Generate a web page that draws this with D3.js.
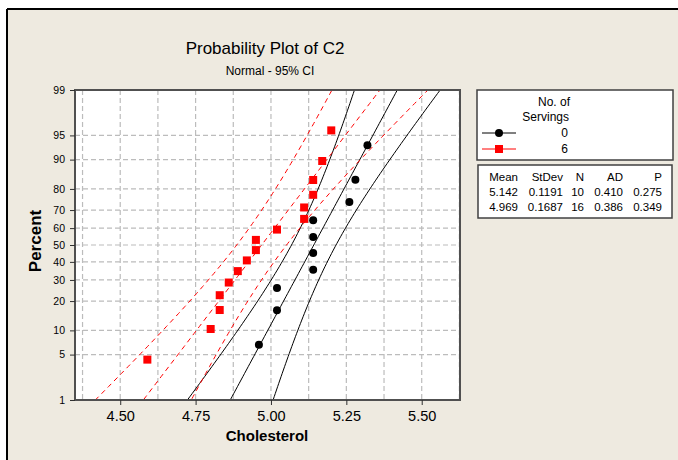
<!DOCTYPE html>
<html>
<head>
<meta charset="utf-8">
<script src="https://cdn.jsdelivr.net/npm/d3@7"></script>
<style>
  body { margin: 0; background: #fff; }
  text { font-family: "Liberation Sans", Arial, sans-serif; fill: #000; }
</style>
</head>
<body>
<svg id="chart"></svg>
<script>
// values
var xTicks = [4.50, 4.75, 5.00, 5.25, 5.50];
var pctTicks = [1, 5, 10, 20, 30, 40, 50, 60, 70, 80, 90, 95, 99];
var pctGrid = [5, 10, 20, 30, 40, 50, 60, 70, 80, 90, 95];

var groups = ["0", "6"];
var chol0 = [4.96, 5.02, 5.02, 5.14, 5.14, 5.14, 5.14, 5.26, 5.28, 5.32];
var pct0 = [6.73, 16.35, 25.96, 35.58, 45.19, 54.81, 64.42, 74.04, 83.65, 93.27];
var chol6 = [4.59, 4.80, 4.83, 4.83, 4.86, 4.89, 4.92, 4.95, 4.95, 5.02, 5.11, 5.11, 5.14, 5.14, 5.17, 5.20];
var pct6 = [4.27, 10.37, 16.46, 22.56, 28.66, 34.76, 40.85, 46.95, 53.05, 59.15, 65.24, 71.34, 77.44, 83.54, 89.63, 95.73];

var statHead = ["Mean", "StDev", "N", "AD", "P"];
var means = [5.142, 4.969];
var sds = [0.1191, 0.1687];
var ns = [10, 16];
var ads = ["0.410", "0.386"];
var ps = ["0.275", "0.349"];

var width = 678, height = 460;
var plotL = 75, plotR = 460, plotT = 90, plotB = 400;

// inverse normal cdf (Acklam)
var probit = function(p) {
  var a = [-3.969683028665376e+01, 2.209460984245205e+02, -2.759285104469687e+02, 1.383577518672690e+02, -3.066479806614716e+01, 2.506628277459239e+00];
  var b = [-5.447609879822406e+01, 1.615858368580409e+02, -1.556989798598866e+02, 6.680131188771972e+01, -1.328068155288572e+01];
  var c = [-7.784894002430293e-03, -3.223964580411365e-01, -2.400758277161838e+00, -2.549732539343734e+00, 4.374664141464968e+00, 2.938163982698783e+00];
  var d = [7.784695709041462e-03, 3.224671290700398e-01, 2.445134137142996e+00, 3.754408661907416e+00];
  var q, r;
  if (p < 0.02425) {
    q = Math.sqrt(-2 * Math.log(p));
    return (((((c[0]*q+c[1])*q+c[2])*q+c[3])*q+c[4])*q+c[5]) / ((((d[0]*q+d[1])*q+d[2])*q+d[3])*q+1);
  }
  if (p > 1 - 0.02425) {
    q = Math.sqrt(-2 * Math.log(1 - p));
    return -(((((c[0]*q+c[1])*q+c[2])*q+c[3])*q+c[4])*q+c[5]) / ((((d[0]*q+d[1])*q+d[2])*q+d[3])*q+1);
  }
  q = p - 0.5; r = q * q;
  return (((((a[0]*r+a[1])*r+a[2])*r+a[3])*r+a[4])*r+a[5])*q / (((((b[0]*r+b[1])*r+b[2])*r+b[3])*r+b[4])*r+1);
};
var zOf = function(pct) { return probit(pct / 100); };

var svg = d3.select("#chart").attr("width", width).attr("height", height);

// window background and frame
svg.append("rect").attr("x", 7).attr("y", 9).attr("width", width - 7).attr("height", height - 9).attr("fill", "#eeeae0");
svg.append("line").attr("x1", 7).attr("x2", width).attr("y1", 9).attr("y2", 9).attr("stroke", "#000").attr("stroke-width", 2);
svg.append("line").attr("x1", 7).attr("x2", 7).attr("y1", 9).attr("y2", height).attr("stroke", "#000").attr("stroke-width", 2);

var x = d3.scaleLinear().domain([4.35, 5.627]).range([plotL, plotR]);
var y = d3.scaleLinear().domain([zOf(1), zOf(99)]).range([plotB, plotT]);

svg.append("rect").attr("x", plotL).attr("y", plotT).attr("width", plotR - plotL).attr("height", plotB - plotT).attr("fill", "#fff");

svg.append("clipPath").attr("id", "clip")
   .append("rect").attr("x", plotL).attr("y", plotT).attr("width", plotR - plotL).attr("height", plotB - plotT);

// grid
var xGrid = d3.range(4.375, 5.627, 0.125);
svg.append("g").selectAll("line").data(xGrid).enter().append("line")
   .attr("x1", function(d) { return x(d); }).attr("x2", function(d) { return x(d); })
   .attr("y1", plotT).attr("y2", plotB)
   .attr("stroke", "#bcbcbc").attr("stroke-width", 1.2).attr("stroke-dasharray", "5,3");
svg.append("g").selectAll("line").data(pctGrid).enter().append("line")
   .attr("x1", plotL).attr("x2", plotR)
   .attr("y1", function(d) { return y(zOf(d)); }).attr("y2", function(d) { return y(zOf(d)); })
   .attr("stroke", "#bcbcbc").attr("stroke-width", 1.2).attr("stroke-dasharray", "5,3");

// fitted lines and 95% CI bands
var zs = d3.range(zOf(1) - 0.1, zOf(99) + 0.1, 0.05);
var curves = [];
groups.forEach(function(g, i) {
  var m = means[i], s = sds[i], n = ns[i];
  var half = function(z) { return 1.96 * s * Math.sqrt(1 / n + z * z / (2 * n)); };
  curves.push({ g: i, pts: zs.map(function(z) { return [m + s * z - half(z), z]; }) });
  curves.push({ g: i, pts: zs.map(function(z) { return [m + s * z, z]; }) });
  curves.push({ g: i, pts: zs.map(function(z) { return [m + s * z + half(z), z]; }) });
});
var line = d3.line().x(function(d) { return x(d[0]); }).y(function(d) { return y(d[1]); });
svg.append("g").attr("clip-path", "url(#clip)").selectAll("path").data(curves).enter().append("path")
   .attr("d", function(d) { return line(d.pts); })
   .attr("fill", "none")
   .attr("stroke", function(d) { return d.g == 0 ? "#000" : "#ff0000"; })
   .attr("stroke-width", 1)
   .attr("stroke-dasharray", function(d) { return d.g == 0 ? null : "5,4"; });

// points
svg.append("g").selectAll("circle").data(chol0).enter().append("circle")
   .attr("cx", function(d) { return x(d); })
   .attr("cy", function(d, i) { return y(zOf(pct0[i])); })
   .attr("r", 4).attr("fill", "#000");
svg.append("g").selectAll("rect").data(chol6).enter().append("rect")
   .attr("x", function(d) { return x(d) - 4; })
   .attr("y", function(d, i) { return y(zOf(pct6[i])) - 4; })
   .attr("width", 8).attr("height", 8).attr("fill", "#ff0000");

// frame
svg.append("rect").attr("x", plotL).attr("y", plotT).attr("width", plotR - plotL).attr("height", plotB - plotT)
   .attr("fill", "none").attr("stroke", "#505050").attr("stroke-width", 2);

// axes
var xAxis = svg.append("g").attr("transform", "translate(0," + plotB + ")")
   .call(d3.axisBottom(x).tickValues(xTicks).tickFormat(d3.format(".2f")).tickSize(5).tickPadding(6));
xAxis.select(".domain").remove();
xAxis.selectAll("text").style("font-size", "14.5px");
xAxis.selectAll("line").attr("stroke", "#303030");

var yAxis = svg.append("g").attr("transform", "translate(" + plotL + ",0)")
   .call(d3.axisLeft(y).tickValues(pctTicks.map(zOf)).tickFormat(function(d, i) { return pctTicks[i]; }).tickSize(5).tickPadding(5));
yAxis.select(".domain").remove();
yAxis.selectAll("text").style("font-size", "10.5px");
yAxis.selectAll("line").attr("stroke", "#303030");

// titles
svg.append("text").attr("x", 265).attr("y", 54).attr("text-anchor", "middle")
   .style("font-size", "17px").text("Probability Plot of C2");
svg.append("text").attr("x", 270).attr("y", 75).attr("text-anchor", "middle")
   .style("font-size", "12px").text("Normal - 95% CI");
svg.append("text").attr("x", 267).attr("y", 441).attr("text-anchor", "middle")
   .style("font-size", "15px").style("font-weight", "bold").text("Cholesterol");
svg.append("text").attr("transform", "translate(41,241) rotate(-90)").attr("text-anchor", "middle")
   .style("font-size", "17px").style("font-weight", "bold").text("Percent");

// legend box
svg.append("rect").attr("x", 477).attr("y", 90).attr("width", 196).attr("height", 70)
   .attr("fill", "#fff").attr("stroke", "#404040").attr("stroke-width", 1.5);
svg.append("text").attr("x", 570).attr("y", 106).attr("text-anchor", "end").style("font-size", "12px").text("No. of");
svg.append("text").attr("x", 569).attr("y", 121).attr("text-anchor", "end").style("font-size", "12px").text("Servings");
var legY = [133, 149];
var leg = svg.append("g").selectAll("g").data(groups).enter().append("g")
   .attr("transform", function(d, i) { return "translate(0," + legY[i] + ")"; });
leg.append("line").attr("x1", 482).attr("x2", 516).attr("y1", 0).attr("y2", 0)
   .attr("stroke", function(d, i) { return i == 0 ? "#000" : "#ff0000"; }).attr("stroke-width", 1);
leg.filter(function(d, i) { return i == 0; }).append("circle").attr("cx", 499).attr("cy", 0).attr("r", 4).attr("fill", "#000");
leg.filter(function(d, i) { return i == 1; }).append("rect").attr("x", 495).attr("y", -4).attr("width", 8).attr("height", 8).attr("fill", "#ff0000");
leg.append("text").attr("x", 568).attr("y", 4).attr("text-anchor", "end").style("font-size", "12px").text(function(d) { return d; });

// stats table
svg.append("rect").attr("x", 478).attr("y", 165).attr("width", 194).attr("height", 53)
   .attr("fill", "#fff").attr("stroke", "#404040").attr("stroke-width", 1.5);
var colX = [518, 563, 584, 623, 662];
svg.append("g").selectAll("text").data(statHead).enter().append("text")
   .attr("x", function(d, i) { return colX[i]; }).attr("y", 181).attr("text-anchor", "end")
   .style("font-size", "11.5px").text(function(d) { return d; });
var rows = groups.map(function(g, i) {
  return [means[i].toFixed(3), sds[i].toFixed(4), String(ns[i]), ads[i], ps[i]];
});
rows.forEach(function(r, j) {
  svg.append("g").selectAll("text").data(r).enter().append("text")
     .attr("x", function(d, i) { return colX[i]; }).attr("y", 196 + j * 15).attr("text-anchor", "end")
     .style("font-size", "11.5px").text(function(d) { return d; });
});
</script>
</body>
</html>
